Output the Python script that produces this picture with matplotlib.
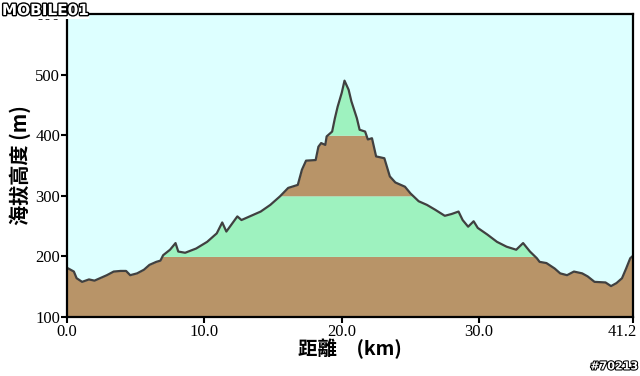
import numpy as np
import matplotlib
matplotlib.use("Agg")
import matplotlib.pyplot as plt
import matplotlib.patheffects as pe
import matplotlib.transforms as mtransforms

dist_km = [0.0, 0.1, 0.5, 0.7, 1.1, 1.6, 2.0, 2.4, 2.9, 3.4, 3.9, 4.3, 4.6, 5.1, 5.6,
           6.0, 6.5, 6.8, 7.0, 7.5, 7.9, 8.1, 8.6, 9.4, 10.2, 10.9, 11.3, 11.6, 12.4,
           12.7, 13.3, 14.1, 14.8, 15.5, 16.1, 16.8, 17.1, 17.4, 18.1, 18.3, 18.5,
           18.8, 18.9, 19.3, 19.5, 19.7, 20.0, 20.2, 20.5, 20.7, 21.1, 21.3, 21.7,
           21.9, 22.2, 22.5, 23.1, 23.5, 23.9, 24.6, 25.0, 25.6, 26.2, 26.8, 27.5,
           28.0, 28.5, 28.8, 29.2, 29.6, 29.9, 30.6, 31.3, 32.0, 32.7, 33.2, 33.7,
           34.2, 34.4, 34.9, 35.5, 35.9, 36.4, 36.9, 37.5, 37.9, 38.4, 39.2, 39.6,
           40.0, 40.4, 40.7, 41.0, 41.2]
elev_m = [181, 180, 175, 164, 158, 162, 160, 164, 169, 175, 176, 176, 169, 172, 178,
          186, 191, 193, 202, 211, 222, 208, 206, 213, 224, 238, 256, 241, 266,
          260, 266, 274, 285, 299, 313, 318, 343, 358, 359, 381, 387,
          384, 398, 406, 428, 447, 470, 490, 475, 456, 428, 409, 406,
          393, 395, 365, 362, 332, 322, 315, 304, 291, 285, 277, 267,
          270, 274, 260, 249, 258, 247, 236, 224, 216, 211, 222, 208,
          197, 191, 189, 180, 172, 169, 175, 172, 167, 158, 157, 151,
          156, 164, 180, 197, 201]

band_edges = [100, 200, 300, 400, 500]
band_colors = ["#B89468", "#9EF2BF", "#B89468", "#9EF2BF"]
x_ticks = [0.0, 10.0, 20.0, 30.0, 41.2]
x_ticklabels = ["0.0", "10.0", "20.0", "30.0", "41.2"]
y_ticks = [100, 200, 300, 400, 500, 600]

fig = plt.figure(figsize=(6.4, 3.76), dpi=100)
ax = fig.add_axes([67/640, 1-317/376, (633-67)/640, (317-14)/376])
ax.set_facecolor("#DDFFFF")

x = np.asarray(dist_km, float)
y = np.asarray(elev_m, float)
xf = np.linspace(x[0], x[-1], 3000)
yf = np.interp(xf, x, y)
for lo, hi, c in zip(band_edges[:-1], band_edges[1:], band_colors):
    ax.fill_between(xf, lo, np.clip(yf, lo, hi), color=c, linewidth=0)
ax.plot(x, y, color="#404040", linewidth=1.6)

ax.set_xlim(0, 41.2)
ax.set_ylim(100, 600)
ax.set_xticks(x_ticks)
ax.set_xticklabels(x_ticklabels)
ax.set_yticks(y_ticks)
for s in ax.spines.values():
    s.set_linewidth(1.6)
    s.set_color("black")
ax.tick_params(direction="out", length=4, width=1.5, labelsize=12, pad=1)
for lab in ax.get_xticklabels() + ax.get_yticklabels():
    lab.set_family(["Liberation Serif", "DejaVu Serif"])
last = ax.get_xticklabels()[-1]
last.set_horizontalalignment("right")
last.set_transform(last.get_transform() + mtransforms.ScaledTranslation(4/100, 0, fig.dpi_scale_trans))

cjk = ["Noto Sans CJK TC", "DejaVu Sans"]
ax.set_ylabel("海拔高度 (m)", family=cjk, fontweight="bold", fontsize=14.5, labelpad=3)
ax.set_xlabel("距離　(km)", family=cjk, fontweight="bold", fontsize=14, labelpad=-1)

fig.text(0.003, 0.992, "MOBILE01", ha="left", va="top", fontsize=11, color="white",
         fontweight="bold", family="DejaVu Sans",
         path_effects=[pe.withStroke(linewidth=2, foreground="black")],
         bbox=dict(facecolor="white", edgecolor="none", pad=0.5))
fig.text(0.997, 0.012, "#70213", ha="right", va="bottom", fontsize=8, color="white",
         fontweight="bold", family="DejaVu Sans",
         path_effects=[pe.withStroke(linewidth=1.5, foreground="black")])

fig.savefig("out.png", dpi=100, facecolor="white")
